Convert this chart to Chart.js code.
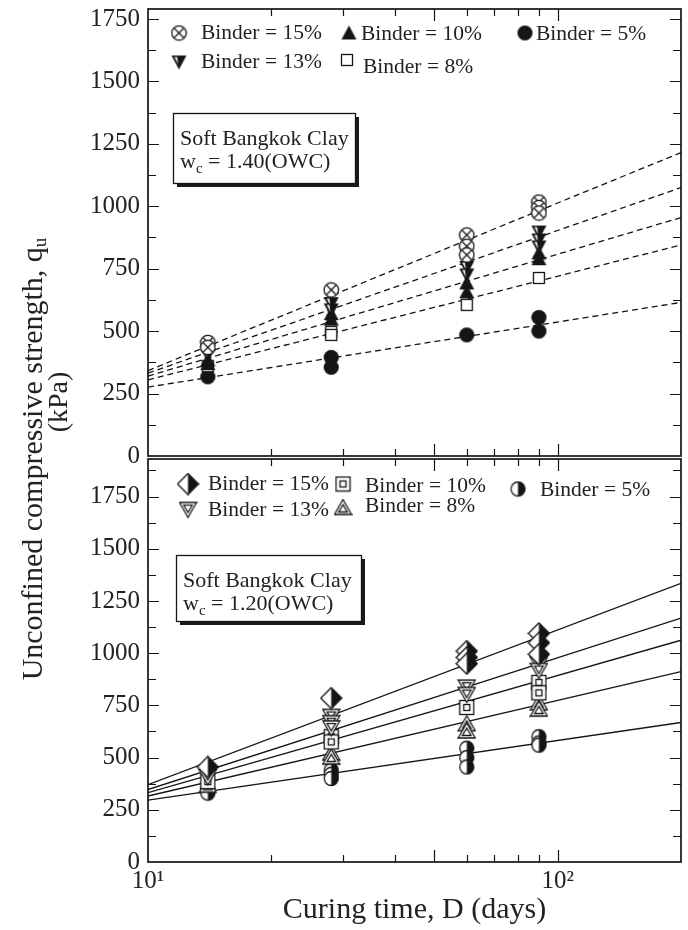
<!DOCTYPE html>
<html><head><meta charset="utf-8">
<script src="https://cdn.jsdelivr.net/npm/chart.js@4.4.1/dist/chart.umd.min.js"></script>
<style>
html,body{margin:0;padding:0;background:#fff;}
#wrap{position:relative;width:688px;height:930px;overflow:hidden;font-family:'Liberation Serif','Times New Roman',serif;color:#222;}
#c1{position:absolute;left:0;top:0;}
#c2{position:absolute;left:0;top:452px;}
.yt{position:absolute;transform:rotate(-90deg);text-align:center;white-space:nowrap;color:#222;}
.yt sub{font-size:19px;vertical-align:-4px;}
</style></head>
<body><div id="wrap">
<canvas id="c1" width="688" height="463"></canvas>
<canvas id="c2" width="688" height="478"></canvas>
<div class="yt" style="left:-253px;top:441px;width:570px;height:36px;line-height:36px;font-size:30px;">Unconfined compressive strength, q<sub>u</sub></div>
<div class="yt" style="left:8px;top:387px;width:100px;height:30px;line-height:30px;font-size:28px;">(kPa)</div>
</div>
<script>
// ---------------- DATA ----------------
const curingDays = [14, 28, 60, 90];
const binderLabels = ['Binder = 15%', 'Binder = 13%', 'Binder = 10%', 'Binder = 8%', 'Binder = 5%'];

// Top panel: w_c = 1.40(OWC)  (values per curing day, replicates)
const top15 = [[455, 435], [665], [885, 840, 805], [1017, 995, 973]];
const top13 = [[405], [610, 585], [755, 725], [897, 865, 837]];
const top10 = [[385, 370], [570, 548], [693, 657], [813, 790]];
const top8  = [[360], [497, 485], [605], [713]];
const top5  = [[317], [395, 355], [485], [555, 500]];
// fitted dashed lines: value at D = 10 and at D = 200
const topFitAt10  = [342, 332, 320, 305, 276];
const topFitAt200 = [1215, 1075, 955, 845, 615];

// Bottom panel: w_c = 1.20(OWC)
const bot15 = [[455], [785], [1010, 980, 950], [1095, 1050, 995]];
const bot13 = [[405], [695, 665, 640], [835, 800], [945, 915]];
const bot10 = [[385], [600, 575], [740], [860, 810]];
const bot8  = [[365], [520, 500], [660, 625], [760, 730]];
const bot5  = [[345, 330], [440, 420, 400], [545, 500, 455], [600, 570, 560]];
const botFitAt10  = [370, 347, 332, 316, 296];
const botFitAt200 = [1335, 1168, 1062, 912, 668];

// axis ticks
const yTickValues = [0, 250, 500, 750, 1000, 1250, 1500, 1750];
const yMinorStep = 125;
const xTickValues = [10, 100];
const xTickLabels = ['10\u00B9', '10\u00B2'];
const xMinorTicks = [20, 30, 40, 50, 60, 70, 80, 90, 100];
const xMediumTicks = [50, 100];

// ---------------- SYMBOLS ----------------
const INK = '#151515';
function mk(size, draw) {
  const c = document.createElement('canvas');
  c.width = size; c.height = size;
  const g = c.getContext('2d');
  g.lineWidth = 1.3; g.strokeStyle = INK; g.fillStyle = INK;
  g.lineJoin = 'miter';
  draw(g, size);
  return c;
}
function poly(g, p) { g.beginPath(); g.moveTo(p[0][0], p[0][1]); for (let i = 1; i < p.length; i++) g.lineTo(p[i][0], p[i][1]); g.closePath(); }

const symTop = [
  mk(17, (g) => { // circle with X
    g.beginPath(); g.arc(8.5, 8.5, 7.2, 0, Math.PI * 2); g.fillStyle = '#fff'; g.fill(); g.stroke();
    const d = 5; g.beginPath(); g.moveTo(8.5 - d, 8.5 - d); g.lineTo(8.5 + d, 8.5 + d); g.moveTo(8.5 + d, 8.5 - d); g.lineTo(8.5 - d, 8.5 + d); g.stroke();
  }),
  mk(17, (g) => { // filled down triangle with a white sliver
    poly(g, [[1, 2], [16, 2], [8.5, 16]]); g.fill();
    g.fillStyle = '#fff'; poly(g, [[4, 3.6], [6.6, 3.6], [7.6, 10.5]]); g.fill();
  }),
  mk(17, (g) => { poly(g, [[8.5, 1], [16, 15], [1, 15]]); g.fill(); }),
  mk(14, (g) => { g.fillStyle = '#fff'; g.fillRect(1.5, 1.5, 11, 11); g.strokeRect(1.5, 1.5, 11, 11); }),
  mk(17, (g) => { g.beginPath(); g.arc(8.5, 8.5, 7.6, 0, Math.PI * 2); g.fill(); })
];
const symBot = [
  mk(23, (g) => { // half-filled diamond
    poly(g, [[11.5, 1], [22, 11.5], [11.5, 22], [1, 11.5]]); g.fillStyle = '#fff'; g.fill();
    g.fillStyle = INK; poly(g, [[11.5, 1], [22, 11.5], [11.5, 22]]); g.fill();
    poly(g, [[11.5, 1], [22, 11.5], [11.5, 22], [1, 11.5]]); g.stroke();
  }),
  mk(19, (g) => { // nested down triangle
    poly(g, [[1, 2], [18, 2], [9.5, 17]]); g.fillStyle = '#fff'; g.fill(); g.stroke();
    poly(g, [[5.3, 4.7], [13.7, 4.7], [9.5, 12]]); g.stroke();
  }),
  mk(17, (g) => { // nested square
    g.fillStyle = '#fff'; g.fillRect(1.5, 1.5, 14, 14); g.strokeRect(1.5, 1.5, 14, 14); g.strokeRect(5.5, 5.5, 6, 6);
  }),
  mk(19, (g) => { // nested up triangle
    poly(g, [[9.5, 1], [18, 16], [1, 16]]); g.fillStyle = '#fff'; g.fill(); g.stroke();
    poly(g, [[9.5, 6.2], [13.8, 13.5], [5.2, 13.5]]); g.stroke();
  }),
  mk(17, (g) => { // half-filled circle
    g.beginPath(); g.arc(8.5, 8.5, 7, 0, Math.PI * 2); g.fillStyle = '#fff'; g.fill();
    g.fillStyle = INK; g.beginPath(); g.moveTo(8.5, 1.5); g.arc(8.5, 8.5, 7, -Math.PI / 2, Math.PI / 2); g.closePath(); g.fill();
    g.beginPath(); g.arc(8.5, 8.5, 7, 0, Math.PI * 2); g.stroke();
  })
];

// ---------------- HELPERS ----------------
function pts(series) {
  const out = [];
  series.forEach((vals, i) => vals.forEach(q => out.push({x: curingDays[i], y: q})));
  return out;
}
const FONT = "'Liberation Serif', 'Times New Roman', serif";

const frameTicks = {
  id: 'frameTicks',
  afterDraw(chart) {
    const {ctx, chartArea: a, scales: {x, y}} = chart;
    ctx.save();
    ctx.strokeStyle = INK; ctx.lineWidth = 1.2;
    ctx.beginPath();
    for (let v = yMinorStep; v < y.max; v += yMinorStep) {
      const py = Math.round(y.getPixelForValue(v)) + 0.5;
      const L = yTickValues.includes(v) ? 11 : 8;
      ctx.moveTo(a.left, py); ctx.lineTo(a.left + L, py);
      ctx.moveTo(a.right, py); ctx.lineTo(a.right - L, py);
    }
    for (const v of xMinorTicks) {
      const px = Math.round(x.getPixelForValue(v)) + 0.5;
      const L = xMediumTicks.includes(v) ? 12 : 7;
      ctx.moveTo(px, a.top); ctx.lineTo(px, a.top + L);
      ctx.moveTo(px, a.bottom); ctx.lineTo(px, a.bottom - L);
    }
    ctx.stroke();
    ctx.lineWidth = 1.7;
    ctx.strokeRect(a.left, a.top, a.right - a.left, a.bottom - a.top);
    ctx.restore();
  }
};

const annot = {
  id: 'annot',
  afterDraw(chart, args, o) {
    const ctx = chart.ctx;
    const off = o.offsetY;
    ctx.save();
    // legend
    ctx.fillStyle = '#222';
    ctx.font = '21.5px ' + FONT;
    ctx.textBaseline = 'middle';
    o.legend.forEach((it, i) => {
      const s = o.syms[i];
      ctx.drawImage(s, it.sx - s.width / 2, it.sy - off - s.height / 2);
      ctx.fillText(chart.data.datasets[i].label, it.tx, it.ty - off);
    });
    // text box
    const b = o.box;
    const by = b.y - off;
    ctx.fillStyle = '#1a1a1a';
    ctx.fillRect(b.x + 4, by + 4, b.w, b.h);
    ctx.fillStyle = '#fff';
    ctx.fillRect(b.x, by, b.w, b.h);
    ctx.strokeStyle = INK; ctx.lineWidth = 1.3;
    ctx.strokeRect(b.x + 0.5, by + 0.5, b.w, b.h);
    ctx.fillStyle = '#222';
    ctx.textBaseline = 'alphabetic';
    ctx.font = '22px ' + FONT;
    ctx.fillText('Soft Bangkok Clay', b.x + 7, by + 32);
    let xx = b.x + 7;
    ctx.fillText('w', xx, by + 55); xx += ctx.measureText('w').width;
    ctx.font = '15px ' + FONT;
    ctx.fillText('c', xx, by + 60); xx += ctx.measureText('c').width;
    ctx.font = '22px ' + FONT;
    ctx.fillText(' = ' + o.wc + '(OWC)', xx, by + 55);
    ctx.restore();
  }
};

function zeroPad(s) { s.paddingTop = 0; s.paddingBottom = 0; s.paddingLeft = 0; s.paddingRight = 0; }

function makeChart(id, cfg) {
  const datasets = [];
  cfg.series.forEach((s, i) => {
    datasets.push({
      type: 'scatter', label: binderLabels[i], data: pts(s),
      pointStyle: cfg.syms[i], pointRadius: 6, order: 1
    });
  });
  cfg.fit10.forEach((v, i) => {
    datasets.push({
      type: 'line', label: 'fit ' + binderLabels[i],
      data: [{x: 10, y: v}, {x: 200, y: cfg.fit200[i]}],
      borderColor: INK, borderWidth: 1.3, borderDash: cfg.dash, pointRadius: 0,
      fill: false, tension: 0, order: 2
    });
  });
  return new Chart(document.getElementById(id), {
    type: 'scatter',
    data: {datasets},
    options: {
      responsive: false, animation: false,
      layout: {padding: cfg.padding},
      plugins: {legend: {display: false}, tooltip: {enabled: false}, annot: cfg.annot},
      scales: {
        x: {
          type: 'logarithmic', min: 10, max: 200,
          grid: {display: false, drawTicks: false}, border: {display: false},
          ticks: {
            display: cfg.showX, autoSkip: false, maxRotation: 0, padding: 4,
            color: '#222', font: {family: FONT, size: 25},
            callback: (v) => { const k = xTickValues.indexOf(v); return k >= 0 ? xTickLabels[k] : ''; }
          },
          afterBuildTicks: (s) => { s.ticks = xTickValues.map(v => ({value: v})); },
          title: {
            display: cfg.showX, text: 'Curing time, D (days)', color: '#222',
            font: {family: FONT, size: 30}, padding: {top: 0, bottom: 2}
          },
          afterFit: (s) => { s.height = cfg.xH; zeroPad(s); }
        },
        y: {
          min: 0, max: cfg.ymax,
          grid: {display: false, drawTicks: false}, border: {display: false},
          ticks: {
            autoSkip: false, padding: 8,
            color: '#222', font: {family: FONT, size: 25},
            callback: (v) => String(v)
          },
          afterBuildTicks: (s) => { s.ticks = yTickValues.map(v => ({value: v})); },
          afterFit: (s) => { s.width = 148; zeroPad(s); }
        }
      }
    },
    plugins: [frameTicks, annot]
  });
}

makeChart('c1', {
  series: [top15, top13, top10, top8, top5], syms: symTop,
  fit10: topFitAt10, fit200: topFitAt200, dash: [6, 4],
  ymax: 1790, showX: false, xH: 2,
  padding: {left: 0, right: 1, top: 9, bottom: 0},
  annot: {
    syms: symTop, wc: '1.40', offsetY: 0,
    legend: [
      {sx: 179, sy: 33, tx: 201, ty: 33},
      {sx: 179, sy: 62, tx: 201, ty: 62},
      {sx: 349, sy: 33, tx: 361, ty: 34},
      {sx: 347, sy: 60, tx: 363, ty: 67},
      {sx: 525, sy: 33, tx: 536, ty: 34}
    ],
    box: {x: 173, y: 113, w: 182, h: 70}
  }
});

makeChart('c2', {
  series: [bot15, bot13, bot10, bot8, bot5], syms: symBot,
  fit10: botFitAt10, fit200: botFitAt200, dash: [],
  ymax: 1930, showX: true, xH: 68,
  padding: {left: 0, right: 1, top: 2, bottom: 0},
  annot: {
    syms: symBot, wc: '1.20', offsetY: 452,
    legend: [
      {sx: 188, sy: 484, tx: 208, ty: 484},
      {sx: 188, sy: 510, tx: 208, ty: 510},
      {sx: 343, sy: 484, tx: 365, ty: 486},
      {sx: 343, sy: 508, tx: 365, ty: 506},
      {sx: 518, sy: 489, tx: 540, ty: 490}
    ],
    box: {x: 176, y: 555, w: 185, h: 66}
  }
});
</script>
</body></html>
